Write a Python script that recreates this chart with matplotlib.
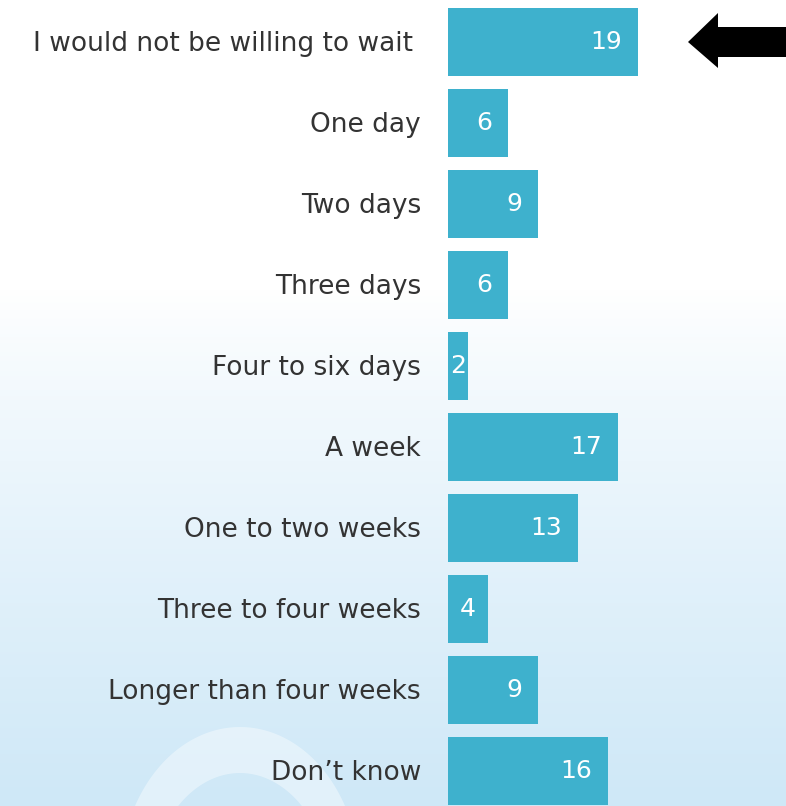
import numpy as np
import matplotlib
matplotlib.use("Agg")
import matplotlib.pyplot as plt
from matplotlib.path import Path
from matplotlib.patches import PathPatch, Polygon

# Survey answers, top to bottom
answers = [
    "I would not be willing to wait ",
    "One day",
    "Two days",
    "Three days",
    "Four to six days",
    "A week",
    "One to two weeks",
    "Three to four weeks",
    "Longer than four weeks",
    "Don\u2019t know",
]
counts = [19, 6, 9, 6, 2, 17, 13, 4, 9, 16]

BAR = "#3eb1cd"
TEXT = "#333333"

W, H = 786, 806
fig = plt.figure(figsize=(W / 100, H / 100), dpi=100)

# background layer in pixel coords: soft gradient, faint arch, pointer arrow
bg = fig.add_axes([0, 0, 1, 1])
bg.set_xlim(0, W)
bg.set_ylim(H, 0)
bg.axis("off")

yy = np.linspace(0, 1, H)[:, None]
t = np.clip((yy * H - 290) / (H - 290), 0, 1) ** 0.85
top = np.array([1.0, 1.0, 1.0])
bottom = np.array([0.81, 0.91, 0.97])
grad = top + (bottom - top) * t[..., None]
grad = np.repeat(grad, 4, axis=1)
bg.imshow(grad, extent=[0, W, H, 0], aspect="auto", zorder=0)

# faint arch near the bottom left
def ellipse_pts(cx, cy, rx, ry, reverse=False):
    a = np.linspace(0, 2 * np.pi, 200)
    if reverse:
        a = a[::-1]
    return np.column_stack([cx + rx * np.cos(a), cy + ry * np.sin(a)])

outer = ellipse_pts(240, 880, 120, 153)
inner = ellipse_pts(240, 900, 92, 127, reverse=True)
verts = np.vstack([outer, inner])
codes = ([Path.MOVETO] + [Path.LINETO] * (len(outer) - 1)
         + [Path.MOVETO] + [Path.LINETO] * (len(inner) - 1))
bg.add_patch(PathPatch(Path(verts, codes), facecolor="white", edgecolor="none",
                       alpha=0.4, zorder=1))

# black pointer arrow
arrow = [(688, 42), (718, 13), (718, 27), (786, 27), (786, 57), (718, 57), (718, 68)]
bg.add_patch(Polygon(arrow, closed=True, facecolor="black", edgecolor="none", zorder=3))

# bar chart on top
ax = fig.add_axes([0, 0, 1, 1])
ax.patch.set_alpha(0)
ax.set_xlim(-44.8, 33.8)
ax.set_ylim((H - 42) / 81, -42 / 81)
ax.axis("off")

ypos = np.arange(len(answers))
ax.barh(ypos, counts, height=0.84, color=BAR, edgecolor="none")

for y, label, v in zip(ypos, answers, counts):
    ax.text(-2.7, y + 0.02, label, ha="right", va="center", fontsize=19, color=TEXT)
    if v < 5:
        ax.text(v / 2, y, str(v), ha="center", va="center",
                fontsize=18, color="white")
    else:
        ax.text(v - 1.6, y, str(v), ha="right", va="center",
                fontsize=18, color="white")

fig.savefig("out.png", dpi=100)
